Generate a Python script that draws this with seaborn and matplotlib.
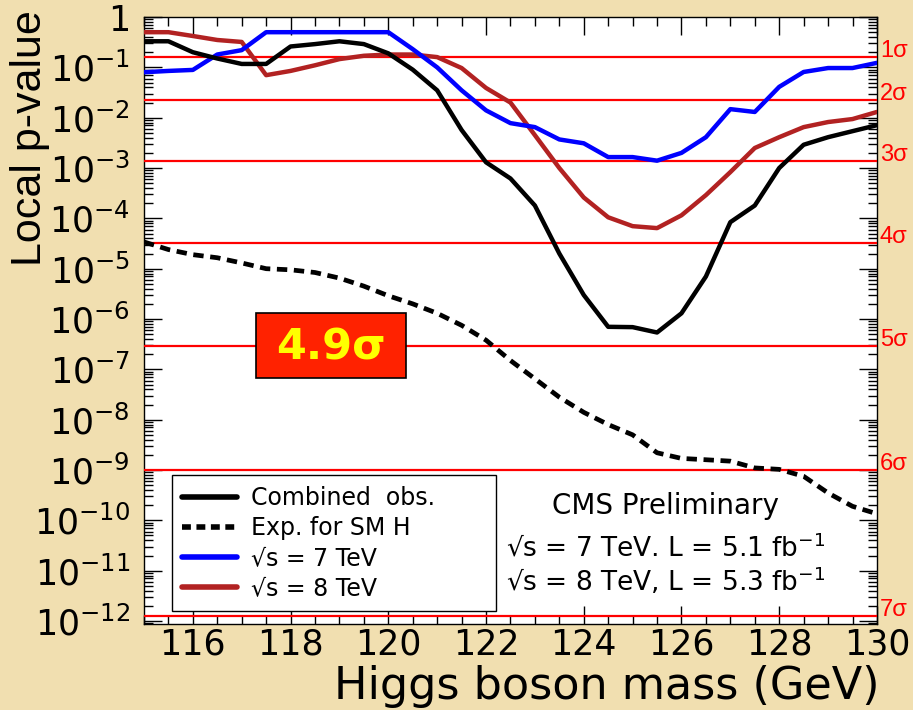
import matplotlib
matplotlib.use("Agg")
import matplotlib.pyplot as plt
import matplotlib.ticker as mticker
from matplotlib.lines import Line2D
from matplotlib.patches import Rectangle
import pandas as pd
import seaborn as sns

# Higgs mass scan points (GeV)
mass = [115.0, 115.5, 116.0, 116.5, 117.0, 117.5, 118.0, 118.5, 119.0, 119.5,
        120.0, 120.5, 121.0, 121.5, 122.0, 122.5, 123.0, 123.5, 124.0, 124.5,
        125.0, 125.5, 126.0, 126.5, 127.0, 127.5, 128.0, 128.5, 129.0, 129.5,
        130.0]

# local p-values
p_combined = [0.33, 0.33, 0.20, 0.15, 0.117, 0.117, 0.26, 0.29, 0.33, 0.29,
              0.19, 0.09, 0.035, 5.7e-3, 1.3e-3, 6.2e-4, 1.8e-4, 2.0e-5, 3.0e-6, 7.0e-7,
              6.9e-7, 5.4e-7, 1.3e-6, 7.0e-6, 8.4e-5, 1.8e-4, 1.0e-3, 2.9e-3, 4.1e-3, 5.4e-3,
              7.1e-3]
p_expected = [3.4e-5, 2.4e-5, 1.9e-5, 1.65e-5, 1.3e-5, 1.0e-5, 9.5e-6, 8.4e-6, 6.5e-6, 4.5e-6,
              2.9e-6, 2.0e-6, 1.3e-6, 7.5e-7, 3.8e-7, 1.5e-7, 6.5e-8, 2.8e-8, 1.4e-8, 8.0e-9,
              5.0e-9, 2.2e-9, 1.7e-9, 1.6e-9, 1.5e-9, 1.1e-9, 1.03e-9, 7.5e-10, 3.5e-10, 1.9e-10,
              1.35e-10]
p_7tev = [0.08, 0.085, 0.089, 0.18, 0.22, 0.5, 0.5, 0.5, 0.5, 0.5,
          0.5, 0.23, 0.10, 0.035, 0.014, 7.8e-3, 6.5e-3, 3.7e-3, 3.1e-3, 1.65e-3,
          1.65e-3, 1.4e-3, 2.0e-3, 4.1e-3, 0.0148, 0.013, 0.041, 0.081, 0.097, 0.097,
          0.123]
p_8tev = [0.5, 0.5, 0.42, 0.35, 0.32, 0.07, 0.085, 0.11, 0.146, 0.17,
          0.18, 0.18, 0.16, 0.097, 0.039, 0.02, 4.5e-3, 1.0e-3, 2.6e-4, 1.05e-4,
          7.0e-5, 6.4e-5, 1.15e-4, 2.9e-4, 8.3e-4, 2.5e-3, 4.1e-3, 6.5e-3, 8.2e-3, 9.4e-3,
          0.013]

series_labels = ["Combined  obs.", "Exp. for SM H", "√s = 7 TeV", "√s = 8 TeV"]

# one-sided p-values of the 1..7 sigma thresholds
sigma_names = ["1σ", "2σ", "3σ", "4σ", "5σ", "6σ", "7σ"]
sigma_pvalues = [0.1587, 0.02275, 1.350e-3, 3.167e-5, 2.867e-7, 9.866e-10, 1.280e-12]

x_ticks = [116, 118, 120, 122, 124, 126, 128, 130]
y_ticks = [1, 1e-1, 1e-2, 1e-3, 1e-4, 1e-5, 1e-6, 1e-7, 1e-8, 1e-9, 1e-10, 1e-11, 1e-12]
y_ticklabels = ["1"] + [r"$\mathregular{10^{-%d}}$" % k for k in range(1, 13)]

significance_text = "4.9σ"
cms_lines = ["CMS Preliminary",
             r"√s = 7 TeV. L = 5.1 fb$^{\mathregular{-1}}$",
             r"√s = 8 TeV, L = 5.3 fb$^{\mathregular{-1}}$"]

sns.set_style("ticks")
plt.rcParams["font.family"] = ["DejaVu Sans"]
plt.rcParams["mathtext.fontset"] = "dejavusans"
for key in ["text.color", "axes.labelcolor", "xtick.color", "ytick.color",
            "xtick.labelcolor", "ytick.labelcolor"]:
    plt.rcParams[key] = "black"

BG = "#F1DFB0"
fig = plt.figure(figsize=(9.13, 7.10), dpi=100, facecolor=BG)
ax = fig.add_axes([0.1577, 0.1218, 0.8028, 0.8542])
ax.set_facecolor("white")

df = pd.DataFrame({"mass": mass, "combined": p_combined, "expected": p_expected,
                   "tev7": p_7tev, "tev8": p_8tev})

sns.lineplot(data=df, x="mass", y="tev8", color="#B22222", lw=3.2, ax=ax, zorder=4)
sns.lineplot(data=df, x="mass", y="tev7", color="#0000FF", lw=3.2, ax=ax, zorder=5)
sns.lineplot(data=df, x="mass", y="expected", color="black", lw=3.4,
             linestyle=(0, (2.2, 1.4)), ax=ax, zorder=6)
sns.lineplot(data=df, x="mass", y="combined", color="black", lw=3.2, ax=ax, zorder=7)

ax.set_yscale("log")
ax.set_xlim(115, 130)
ax.set_ylim(10 ** -12.05, 1)

# significance thresholds and their labels on the right
for name, pv in zip(sigma_names, sigma_pvalues):
    ax.axhline(pv, color="#FF0000", lw=1.6, zorder=3)
    ax.text(1.004, pv, name, transform=ax.get_yaxis_transform(), color="#FF0000",
            fontsize=17, family=["Liberation Sans", "DejaVu Sans"],
            ha="left", va="baseline", clip_on=False)

# ticks on all four sides, pointing inward
ax.xaxis.set_major_locator(mticker.FixedLocator(x_ticks))
ax.xaxis.set_minor_locator(mticker.MultipleLocator(0.5))
ax.yaxis.set_major_locator(mticker.FixedLocator(y_ticks))
ax.yaxis.set_major_formatter(mticker.FixedFormatter(y_ticklabels))
ax.yaxis.set_minor_locator(mticker.LogLocator(base=10, subs=[2, 3, 4, 5, 6, 7, 8, 9], numticks=100))
ax.yaxis.set_minor_formatter(mticker.NullFormatter())
ax.tick_params(which="both", direction="in", top=True, right=True, color="black", width=1.0)
ax.tick_params(which="major", length=13)
ax.tick_params(which="minor", length=6.5)
ax.tick_params(axis="y", which="major", labelsize=25, pad=10)
ax.tick_params(axis="x", which="major", labelsize=25, pad=3)
for s in ax.spines.values():
    s.set_color("black")
    s.set_linewidth(1.0)

ax.set_xlabel("Higgs boson mass (GeV)", fontsize=32, loc="right")
ax.xaxis.set_label_coords(1.004, -0.068)
ax.set_ylabel("Local p-value", fontsize=31, loc="top",
              family=["Liberation Sans", "DejaVu Sans"])
ax.yaxis.set_label_coords(-0.128, 1.012)

# significance box
ax.add_patch(Rectangle((0.1528, 0.405), 0.2046, 0.107, transform=ax.transAxes,
                       facecolor="#FF2200", edgecolor="black", lw=1.2, zorder=8))
ax.text(0.255, 0.455, significance_text, transform=ax.transAxes, color="#FFFF00",
        fontsize=31, fontweight="bold", ha="center", va="center", zorder=9)

# experiment text
ax.text(0.712, 0.193, cms_lines[0], transform=ax.transAxes, fontsize=20,
        ha="center", va="center", zorder=9)
ax.text(0.712, 0.124, cms_lines[1], transform=ax.transAxes, fontsize=19,
        ha="center", va="center", zorder=9)
ax.text(0.712, 0.070, cms_lines[2], transform=ax.transAxes, fontsize=19,
        ha="center", va="center", zorder=9)

handles = [Line2D([], [], color="black", lw=4),
           Line2D([], [], color="black", lw=4, linestyle=(0, (1.6, 1.0))),
           Line2D([], [], color="#0000FF", lw=4),
           Line2D([], [], color="#B22222", lw=4)]
leg = ax.legend(handles, series_labels, loc="lower left",
                bbox_to_anchor=(0.038, 0.0206, 0.442, 0.2226), mode="expand",
                borderaxespad=0, fontsize=17, frameon=True, fancybox=False,
                framealpha=1, edgecolor="black", handlelength=2.3,
                handletextpad=0.6, labelspacing=0.26, borderpad=0.45)
leg.get_frame().set_linewidth(1.0)
leg.set_zorder(10)

fig.savefig("out.png", dpi=100, facecolor=BG)
